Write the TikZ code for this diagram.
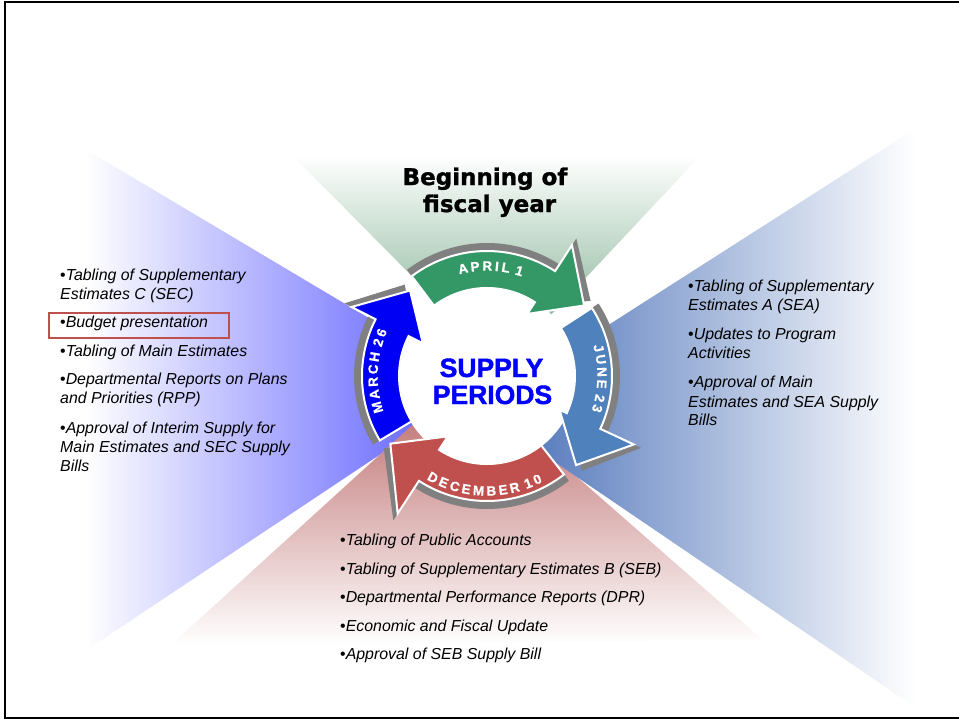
\documentclass[tikz,border=0pt]{standalone}
\usepackage{fontspec}
\setmainfont{Liberation Sans}
\newfontfamily\headfont[BoldFeatures={FakeBold=1.2}]{DejaVu Sans}
\newfontfamily\heavysans[BoldFeatures={FakeBold=1.6}]{Liberation Sans}
\newfontfamily\labsans[BoldFeatures={FakeBold=0.8}]{Liberation Sans}
\definecolor{aprilgreen}{RGB}{52,152,102}
\definecolor{junesteel}{RGB}{79,129,189}
\definecolor{decred}{RGB}{192,80,77}
\definecolor{marblue}{RGB}{0,0,245}
\definecolor{shadowgray}{RGB}{128,128,128}
\definecolor{topwedge}{RGB}{110,165,130}
\definecolor{leftwedge}{RGB}{80,80,255}
\definecolor{botwedge}{RGB}{185,100,100}
\definecolor{rightwedge}{RGB}{65,105,180}
\definecolor{boxred}{RGB}{192,80,77}
\definecolor{supplyblue}{RGB}{0,0,255}
\newcommand\labfont{\labsans\fontsize{13.5}{15}\selectfont\bfseries}
\newcommand\bul{{\upshape\textbullet}}
\tikzset{
  lab/.style={inner sep=0pt, text=white, font=\labfont},
  item/.style={anchor=base west, inner sep=0pt, font=\fontsize{15.9}{18}\selectfont\itshape},
  headtext/.style={anchor=base, inner sep=0pt, font=\headfont\fontsize{23}{26}\selectfont\bfseries},
  supplytext/.style={anchor=base, inner sep=0pt, text=supplyblue, font=\heavysans\fontsize{26.5}{30}\selectfont\bfseries},
  ringarrow/.style n args={7}{insert path={(#1:125+#7) arc[start angle=#1, end angle=#2, radius=125+#7] -- (#2:#4+#7) -- (#3:#6+#7) -- (#2:#5+#7) -- (#2:88+#7) arc[start angle=#2, end angle=#1, radius=88+#7] -- cycle}},
  arrowbody/.style={draw=white, line width=2pt, line join=miter}
}
\begin{document}
\begin{tikzpicture}[x=1pt,y=1pt]
\useasboundingbox (0,0) rectangle (959,-720);
\fill[white] (0,0) rectangle (959,-720);
% background fans
\shade[top color=white, bottom color=topwedge] (502,-367) -- (292,-155) -- (701,-155) -- cycle;
\shade[left color=white, right color=leftwedge] (483,-386) -- (85,-149) -- (85,-651) -- cycle;
\shade[top color=botwedge, bottom color=white] (464,-378) -- (171,-645) -- (763,-640) -- cycle;
\shade[left color=rightwedge, right color=white] (477,-409) -- (915,-129) -- (915,-707) -- cycle;
% frame
\draw[line width=2pt] (5,-2) rectangle (962,-718);
% ring
\begin{scope}[shift={(487,-376)}]
  \fill[white] (0,0) circle[radius=89];
  \fill[shadowgray, ringarrow={127}{57}{36}{156}{74}{120}{8}];
  \fill[shadowgray, ringarrow={33}{-25}{-45}{162}{80}{126}{8}];
  \fill[shadowgray, ringarrow={-52}{-123}{-145}{164}{72}{118}{8}];
  \fill[shadowgray, ringarrow={211}{153}{132}{152}{72}{115}{8}];
  \path[fill=aprilgreen, arrowbody, ringarrow={127}{57}{36}{156}{74}{120}{0}];
  \path[fill=junesteel, arrowbody, ringarrow={33}{-25}{-45}{162}{80}{126}{0}];
  \path[fill=decred, arrowbody, ringarrow={-52}{-123}{-145}{164}{72}{118}{0}];
  \path[fill=marblue, arrowbody, ringarrow={211}{153}{132}{152}{72}{115}{0}];
  \foreach \ch/\a [count=\i] in {A/102.6, P/96.23, R/89.86, I/84.81, L/80.13, 1/72.85}
    \node[lab, rotate=\a-90] (apr\i) at (\a:110) {\ch};
  \foreach \ch/\a [count=\i] in {J/14, U/8.27, N/2.0, E/-4.09, 2/-11.24, 3/-16.44}
    \node[lab, rotate=\a-90] (jun\i) at (\a:115) {\ch};
  \foreach \ch/\a [count=\i] in {M/196, A/189.31, R/182.98, C/176.65, H/170.32, 2/162.93, 6/157.69}
    \node[lab, rotate=\a-90] (mar\i) at (\a:114) {\ch};
  \foreach \ch/\a [count=\i] in {D/-118, E/-112.14, C/-106.27, E/-100.41, M/-94.2, B/-87.82, E/-81.95, R/-76.09, 1/-69.03, 0/-64.02}
    \node[lab, rotate=\a+90] (dec\i) at (\a:115) {\ch};
\end{scope}
% titles
\node[headtext] (beg1) at (485,-185) {Beginning of};
\node[headtext] (beg2) at (489.5,-212) {fiscal year};
\node[supplytext] (sup1) at (491.5,-377) {SUPPLY};
\node[supplytext] (sup2) at (492.5,-404) {PERIODS};
% left list
\node[item] (l1) at (60,-280) {\bul Tabling of Supplementary};
\node[item] (l2) at (60,-299) {Estimates C (SEC)};
\node[item] (l3) at (60,-327) {\bul Budget presentation};
\node[item] (l4) at (60,-356) {\bul Tabling of Main Estimates};
\node[item] (l5) at (60,-384) {\bul Departmental Reports on Plans};
\node[item] (l6) at (60,-403) {and Priorities (RPP)};
\node[item] (l7) at (60,-433) {\bul Approval of Interim Supply for};
\node[item] (l8) at (60,-452) {Main Estimates and SEC Supply};
\node[item] (l9) at (60,-471) {Bills};
\node[draw=boxred, line width=1.8pt, inner sep=0pt, minimum width=180pt, minimum height=25pt, anchor=north west] (budgetbox) at (48,-312) {};
% right list
\node[item] (r1) at (688,-291) {\bul Tabling of Supplementary};
\node[item] (r2) at (688,-310) {Estimates A (SEA)};
\node[item] (r3) at (688,-339) {\bul Updates to Program};
\node[item] (r4) at (688,-358) {Activities};
\node[item] (r5) at (688,-387) {\bul Approval of Main};
\node[item] (r6) at (688,-407) {Estimates and SEA Supply};
\node[item] (r7) at (688,-425) {Bills};
% bottom list
\node[item] (b1) at (340,-545) {\bul Tabling of Public Accounts};
\node[item] (b2) at (340,-574) {\bul Tabling of Supplementary Estimates B (SEB)};
\node[item] (b3) at (340,-602) {\bul Departmental Performance Reports (DPR)};
\node[item] (b4) at (340,-631) {\bul Economic and Fiscal Update};
\node[item] (b5) at (340,-659) {\bul Approval of SEB Supply Bill};
\end{tikzpicture}
\end{document}
